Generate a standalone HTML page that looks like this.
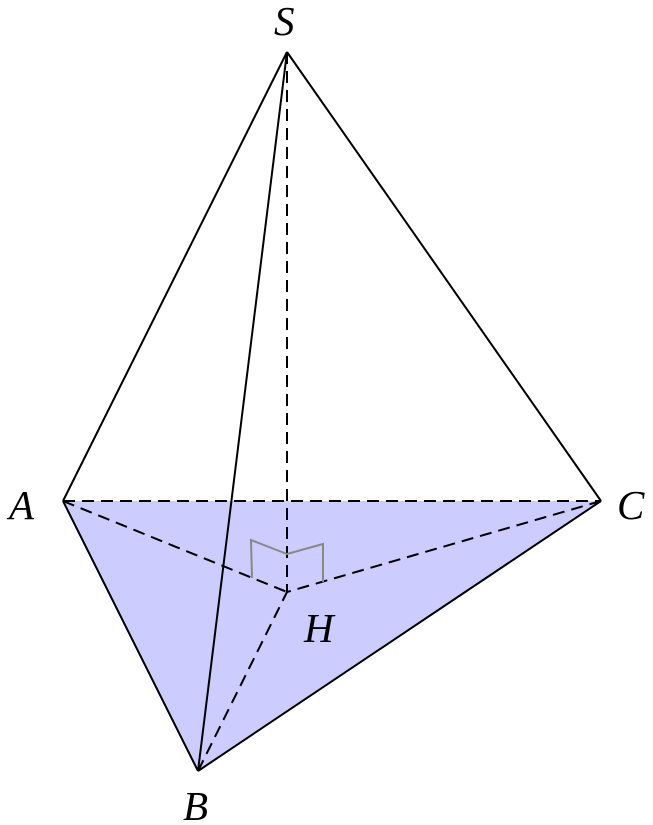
<!DOCTYPE html>
<html><head><style>body{margin:0;background:#fff}svg{display:block}</style></head><body>
<svg width="653" height="825" viewBox="0 0 653 825" xmlns="http://www.w3.org/2000/svg">
<polygon points="63,501 601,501 198,771" fill="#ccccff"/>
<g stroke="#000" stroke-width="2" fill="none" stroke-dasharray="12,7">
<line x1="63" y1="501" x2="601" y2="501"/>
<line x1="63" y1="501" x2="287" y2="592"/>
<line x1="601" y1="501" x2="287" y2="592"/>
<line x1="198" y1="771" x2="287" y2="592"/>
<line x1="287" y1="52" x2="287" y2="592"/>
</g>
<polyline points="252,578 251,540 287,554 323,544 323,582" fill="none" stroke="#888" stroke-width="2"/>
<g stroke="#000" stroke-width="2" fill="none">
<line x1="287" y1="52" x2="63" y2="501"/>
<line x1="287" y1="52" x2="601" y2="501"/>
<line x1="287" y1="52" x2="198" y2="771"/>
<line x1="63" y1="501" x2="198" y2="771"/>
<line x1="601" y1="501" x2="198" y2="771"/>
</g>
<g font-family="Liberation Serif, serif" font-style="italic" font-size="41">
<text x="274" y="35">S</text>
<text x="9" y="519">A</text>
<text x="617" y="519">C</text>
<text x="183" y="820">B</text>
<text x="304" y="642">H</text>
</g>
</svg>
</body></html>
